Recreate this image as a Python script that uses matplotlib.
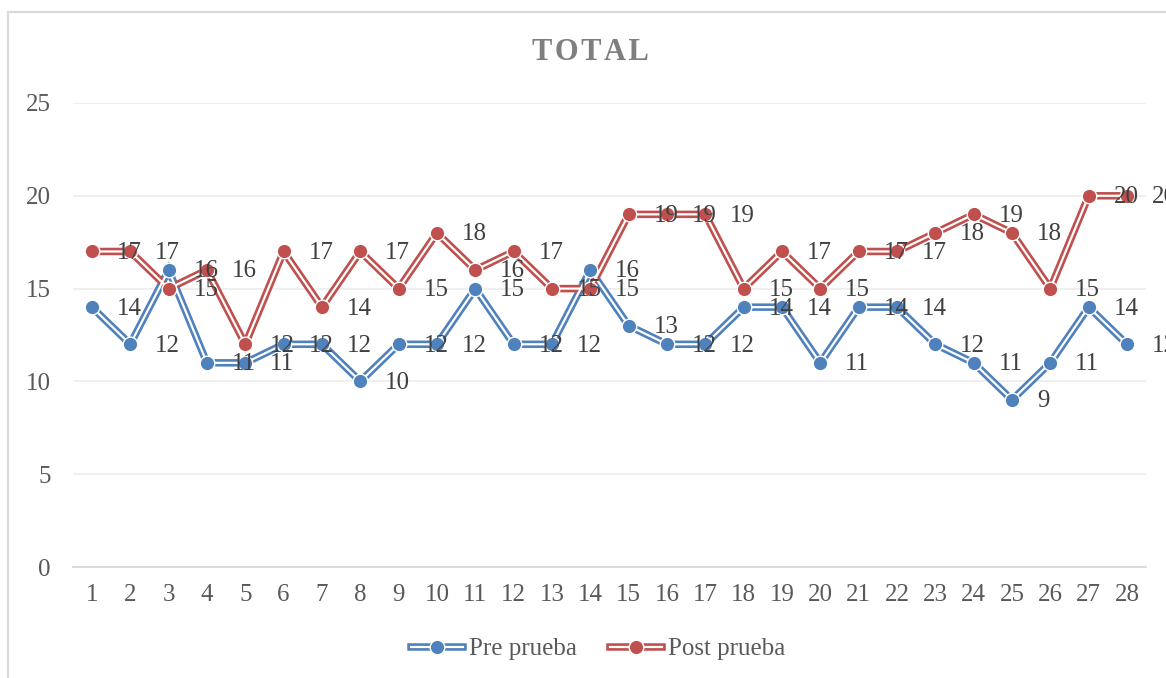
import matplotlib
matplotlib.use("Agg")
import matplotlib.pyplot as plt
from matplotlib.lines import Line2D
from matplotlib.patches import Rectangle
from matplotlib.legend_handler import HandlerTuple

plt.rcParams['font.family'] = ['Liberation Serif', 'DejaVu Serif']

# datos
alumnos = list(range(1, 29))
pre_prueba = [14, 12, 16, 11, 11, 12, 12, 10, 12, 12, 15, 12, 12, 16,
              13, 12, 12, 14, 14, 11, 14, 14, 12, 11, 9, 11, 14, 12]
post_prueba = [17, 17, 15, 16, 12, 17, 14, 17, 15, 18, 16, 17, 15, 15,
               19, 19, 19, 15, 17, 15, 17, 17, 18, 19, 18, 15, 20, 20]
series = [("Pre prueba", pre_prueba, "#4F81BD"),
          ("Post prueba", post_prueba, "#C0504D")]

txt = "#404040"
fig = plt.figure(figsize=(11.66, 6.78), dpi=100)
ax = fig.add_axes([0.0624, 0.1637, 0.9206, 0.6844])

# marco del grafico
fig.patches.append(Rectangle((8 / 1166, -0.1), 1.2, 1.1 - 12 / 678,
                             transform=fig.transFigure, fill=False,
                             edgecolor="#D9D9D9", lw=1.5))

handles = []
for name, vals, col in series:
    ax.plot(alumnos, vals, color=col, lw=5.4, solid_joinstyle="miter", zorder=3)
    ax.plot(alumnos, vals, color="white", lw=1.6, solid_joinstyle="miter", zorder=4)
    ax.plot(alumnos, vals, ls="none", marker="o", ms=10.5, mfc=col,
            mec="white", mew=1, zorder=5)
    for x, v in zip(alumnos, vals):
        ax.annotate(str(v), (x, v), xytext=(18, -1), textcoords="offset points",
                    ha="left", va="center", fontsize=18, color=txt,
                    annotation_clip=False, zorder=6)
    handles.append((Line2D([], [], color=col, lw=5.4),
                    Line2D([], [], color="white", lw=1.6),
                    Line2D([], [], ls="none", marker="o", ms=10.5, mfc=col,
                           mec="white", mew=1)))

ax.set_xlim(0.5, 28.5)
ax.set_ylim(0, 25)
ax.set_xticks(alumnos)
ax.set_yticks([0, 5, 10, 15, 20, 25])
ax.tick_params(axis="both", length=0, labelsize=18, labelcolor="#595959")
ax.tick_params(axis="x", pad=12)
ax.tick_params(axis="y", pad=16)
ax.grid(axis="y", color="#EEEEEE", lw=1.3)
ax.set_axisbelow(True)
for s in ["top", "right", "left"]:
    ax.spines[s].set_visible(False)
ax.spines["bottom"].set_color("#D9D9D9")
ax.spines["bottom"].set_linewidth(1.3)

fig.text(0.506, 1 - 53 / 678, "T\u200aO\u200aT\u200aA\u200aL", ha="center",
         va="center", fontsize=22, fontweight="bold", color="#7F7F7F")

fig.legend(handles, [s[0] for s in series], loc="center",
           bbox_to_anchor=(0.513, 1 - 649 / 678), ncol=2, frameon=False,
           fontsize=18, labelcolor="#595959", handlelength=2.1,
           columnspacing=1.3, handletextpad=0.25,
           handler_map={tuple: HandlerTuple(ndivide=1)})

fig.savefig("out.png", dpi=100)
